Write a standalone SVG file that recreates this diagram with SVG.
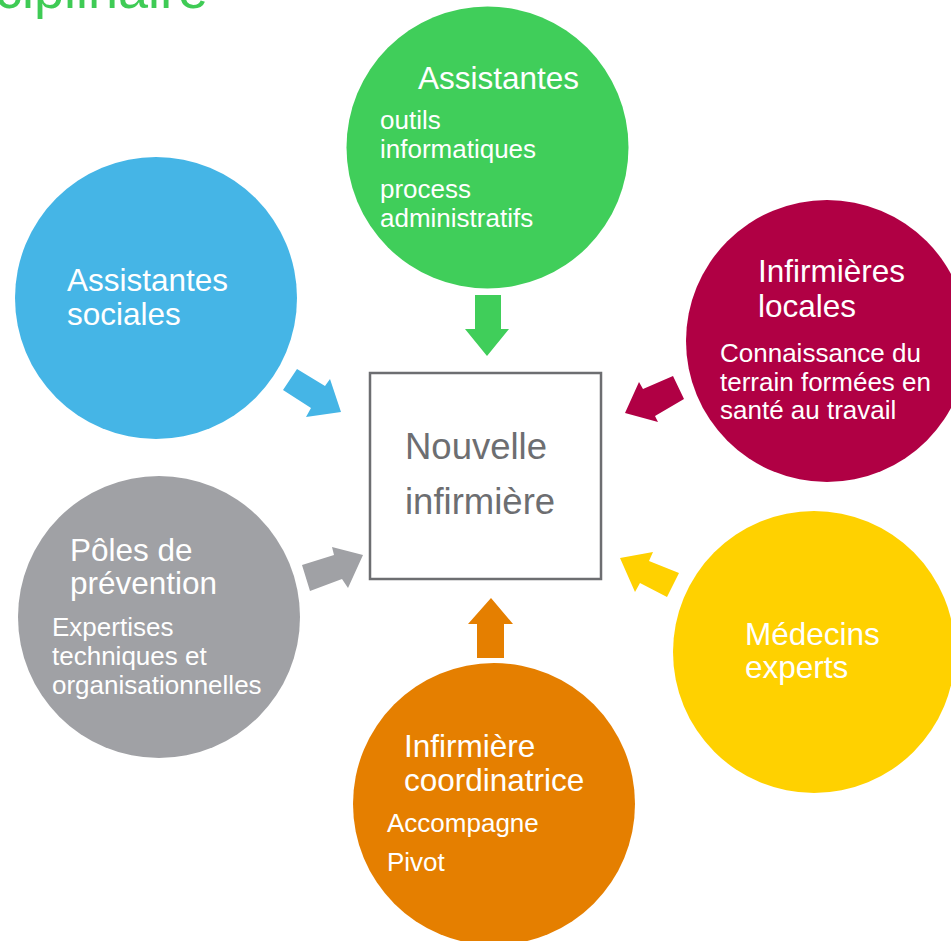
<svg xmlns="http://www.w3.org/2000/svg" width="951" height="941" viewBox="0 0 951 941">
<style>
text{font-family:"Liberation Sans",Arial,Helvetica,sans-serif;fill:#fff}
.t{font-size:31.5px}
.s{font-size:26px}
.c{font-size:36.5px;fill:#6d6e71}
.title{font-size:54px;fill:#3fcb55}
</style>
<rect width="951" height="941" fill="#fff"/>
<text class="title" x="-5" y="8">ciplinaire</text>
<g id="connectors">
<polygon fill="#40ce5a" points="475,295 501,295 501,329 509,329 487,356 465,329 475,329"/>
<polygon fill="#e57f00" points="477,658 504,658 504,624 513,624 491,598 468,624 477,624"/>
<polygon fill="#45b5e6" points="297,369 325,386 330,379 341,412 306,417 311,408 283,390"/>
<polygon fill="#b00044" points="673,376 643,389 639,382 625,413 658,422 655,416 684,399"/>
<polygon fill="#a0a1a5" points="302,565 334,555 332,547 363,555 348,588 342,579 310,591"/>
<polygon fill="#ffd100" points="620,558 653,552 649,561 679,573 667,597 640,583 635,592"/>
</g>
<g id="center">
<rect x="370" y="373" width="231" height="206" fill="#fff" stroke="#6d6e71" stroke-width="2.5"/>
<text class="c" x="405" y="459">Nouvelle</text>
<text class="c" x="405" y="514">infirmière</text>
</g>
<g id="assistantes">
<circle cx="487.5" cy="147.5" r="141" fill="#40ce5a"/>
<text class="t" x="418" y="89">Assistantes</text>
<text class="s" x="380" y="129">outils</text>
<text class="s" x="380" y="158">informatiques</text>
<text class="s" x="380" y="198">process</text>
<text class="s" x="380" y="227">administratifs</text>
</g>
<g id="assistantes-sociales">
<circle cx="156" cy="298" r="141" fill="#45b5e6"/>
<text class="t" x="67" y="291">Assistantes</text>
<text class="t" x="67" y="325">sociales</text>
</g>
<g id="infirmieres-locales">
<circle cx="827" cy="341" r="141" fill="#b00044"/>
<text class="t" x="758" y="282">Infirmières</text>
<text class="t" x="758" y="317">locales</text>
<text class="s" x="720" y="362">Connaissance du</text>
<text class="s" x="720" y="391">terrain formées en</text>
<text class="s" x="720" y="419">santé au travail</text>
</g>
<g id="poles-prevention">
<circle cx="159" cy="617" r="141" fill="#a0a1a5"/>
<text class="t" x="70" y="561">Pôles de</text>
<text class="t" x="70" y="594">prévention</text>
<text class="s" x="52" y="636">Expertises</text>
<text class="s" x="52" y="665">techniques et</text>
<text class="s" x="52" y="694">organisationnelles</text>
</g>
<g id="medecins-experts">
<circle cx="814" cy="652" r="141" fill="#ffd100"/>
<text class="t" x="745" y="645">Médecins</text>
<text class="t" x="745" y="678">experts</text>
</g>
<g id="infirmiere-coordinatrice">
<circle cx="494" cy="804" r="141" fill="#e57f00"/>
<text class="t" x="404" y="757">Infirmière</text>
<text class="t" x="404" y="791">coordinatrice</text>
<text class="s" x="387" y="832">Accompagne</text>
<text class="s" x="387" y="871">Pivot</text>
</g>
</svg>
